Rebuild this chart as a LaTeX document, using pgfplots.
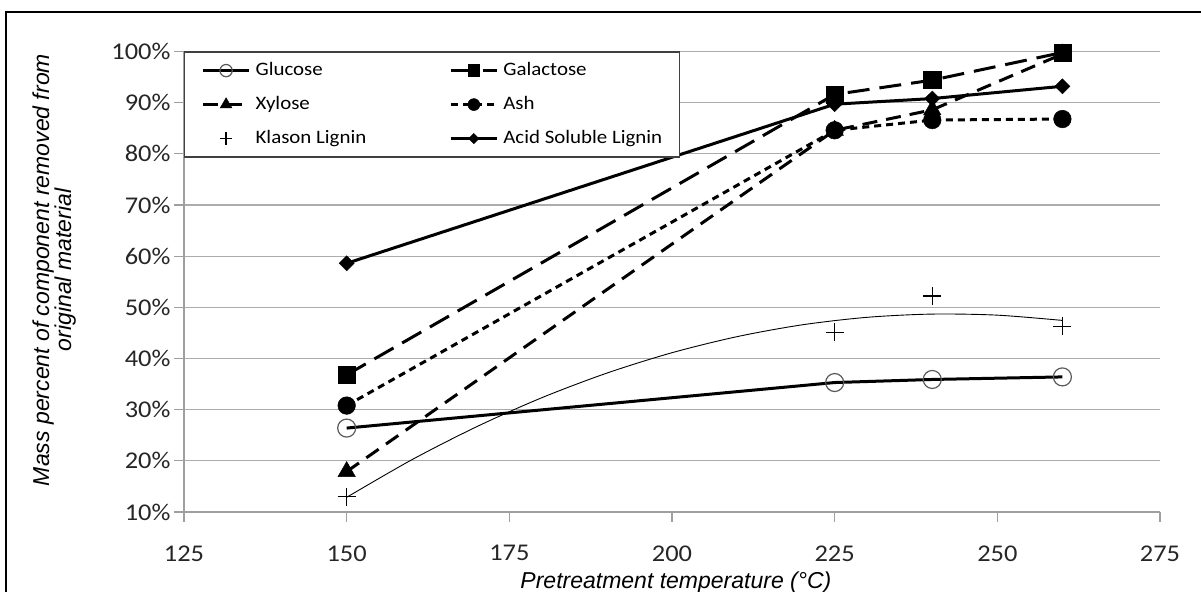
\documentclass[border=0pt]{standalone}
\usepackage{fontspec}
\setmainfont{Liberation Sans}
\newfontfamily\carl{Carlito}[FakeStretch=1.1]
\usepackage{pgfplots}
\pgfplotsset{compat=1.18}
\pgfplotsset{
  mylegimg/.style={legend image code/.code={\draw[mark repeat=2,mark phase=2,##1,every mark/.append style={scale=0.68}]
     plot coordinates {(0bp,0bp) (23bp,0bp) (46bp,0bp)};}},
}
\begin{document}
\begin{tikzpicture}[x=1bp,y=1bp]
\useasboundingbox (0,0) rectangle (1201,592);
\draw[line width=2bp] (6,0) -- (6,580) -- (1201,580);
\begin{axis}[
  at={(184bp,80bp)}, anchor=south west,
  scale only axis, width=976bp, height=460.5bp,
  xmin=125, xmax=275, ymin=10, ymax=100,
  xtick={125,150,...,275}, ytick={10,20,...,100},
  axis lines*=left,
  axis line style={draw=gray!75, line width=1.2bp},
  ymajorgrids, grid style={draw=gray!65, line width=1.2bp},
  tick align=outside, major tick length=10bp,
  tick style={draw=gray!75, line width=1.2bp},
  /pgf/number format/assume math mode=true,
  xticklabel={\pgfmathprintnumber{\tick}},
  yticklabel={\pgfmathprintnumber{\tick}\%},
  ticklabel style={font=\carl\fontsize{24bp}{28bp}\selectfont, text=black!85},
  xticklabel style={yshift=-20bp},
  xlabel={Pretreatment temperature (°C)},
  ylabel={Mass percent of component removed from\\original material},
  xlabel style={at={(axis description cs:0.504,-0.167)}, anchor=base,
     font=\itshape\fontsize{23bp}{26bp}\selectfont},
  ylabel style={at={(axis description cs:-0.133,0.5255)}, anchor=center, align=center,
     font=\itshape\fontsize{23bp}{22bp}\selectfont},
  clip=false,
  legend columns=2,
  legend style={at={(0,1)}, anchor=north west, draw=black!75, line width=1.2bp,
     fill=white, inner xsep=17bp, inner ysep=1.5bp,
     font=\carl\fontsize{19bp}{22bp}\selectfont,
     nodes={text height=14bp, text depth=4bp, inner ysep=8bp, inner xsep=0bp},
     /tikz/every odd column/.append style={column sep=5bp},
     /tikz/every even column/.append style={column sep=83bp}},
  legend cell align=left,
  mylegimg,
]
% Glucose
\addplot[black, line width=3bp, mark=o, mark size=9bp,
  mark options={solid, draw=black!65, line width=1.2bp}]
  coordinates {(150,26.4) (225,35.3) (240,35.9) (260,36.4)};
\addlegendentry{Glucose}
% Galactose
\addplot[black, line width=3bp, dash pattern=on 22bp off 10bp, mark=square*, mark size=8.6bp,
  mark options={solid, fill=black, line width=0.5bp}]
  coordinates {(150,36.8) (225,91.6) (240,94.4) (260,99.8)};
\addlegendentry{Galactose}
% Xylose
\addplot[black, line width=3bp, dash pattern=on 15bp off 9bp, mark=triangle*, mark size=10bp,
  mark options={solid, fill=black, line width=0.5bp}]
  coordinates {(150,17.9) (225,84.6) (240,88.6) (260,99.5)};
\addlegendentry{Xylose}
% Ash
\addplot[black, line width=3bp, dash pattern=on 7bp off 5bp, mark=*, mark size=8.8bp,
  mark options={solid, fill=black, line width=0.5bp}]
  coordinates {(150,30.8) (225,84.6) (240,86.6) (260,86.8)};
\addlegendentry{Ash}
% Klason Lignin
\addplot[black, only marks, mark=+, mark size=9bp, mark options={line width=1.3bp}, mylegimg]
  coordinates {(150,13.0) (225,45.1) (240,52.2) (260,46.3)};
\addlegendentry{Klason Lignin}
% Acid Soluble Lignin
\addplot[black, line width=3bp, mark=square*, mark size=5.3bp,
  mark options={solid, fill=black, rotate=45, line width=0.5bp}]
  coordinates {(150,58.6) (225,89.7) (240,90.8) (260,93.2)};
\addlegendentry{Acid Soluble Lignin}
% Klason Lignin trendline
\addplot[black, line width=0.9bp, smooth, no marks, forget plot]
  coordinates {(150,12.87) (160,20.20) (170,26.68) (180,32.34) (190,37.15) (200,41.13)
  (210,44.27) (220,46.58) (230,48.05) (240,48.68) (250,48.47) (260,47.44)};
\end{axis}
\end{tikzpicture}
\end{document}
